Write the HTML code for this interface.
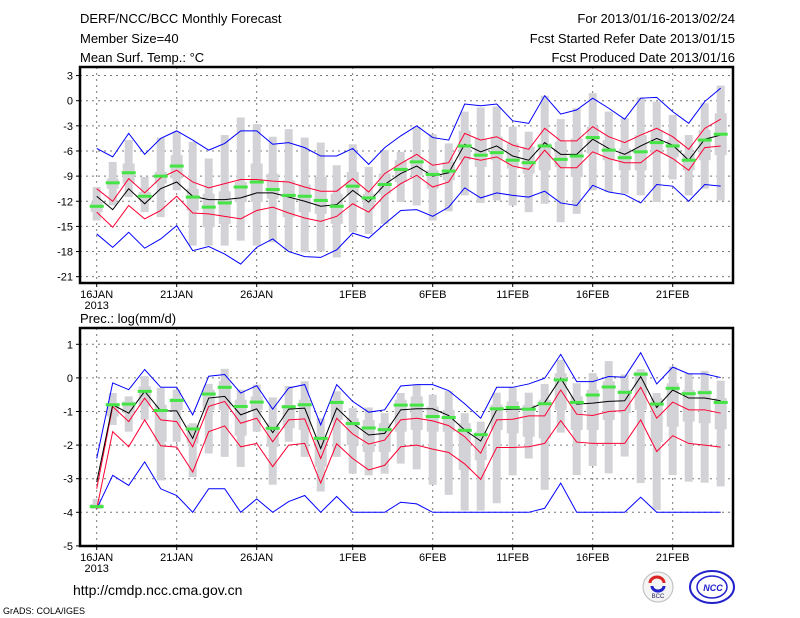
<!DOCTYPE html>
<html><head><meta charset="utf-8"><style>
html,body{margin:0;padding:0;background:#fff;}
svg{display:block;font-family:"Liberation Sans",sans-serif;}
</style></head><body>
<svg id="c" width="800" height="618" viewBox="0 0 800 618">
<rect width="800" height="618" fill="#fff"/>
<g font-size="13" fill="#000">
<text x="80" y="23">DERF/NCC/BCC Monthly Forecast</text>
<text x="80" y="43">Member Size=40</text>
<text x="80" y="62">Mean Surf. Temp.: °C</text>
<text x="735" y="23" text-anchor="end">For 2013/01/16-2013/02/24</text>
<text x="735" y="43" text-anchor="end">Fcst Started Refer Date 2013/01/15</text>
<text x="735" y="62" text-anchor="end">Fcst Produced Date 2013/01/16</text>
</g>
<text x="80" y="323" font-size="13">Prec.: log(mm/d)</text>
<text x="73" y="595" font-size="14">http://cmdp.ncc.cma.gov.cn</text>
<text x="3" y="614" font-size="9">GrADS: COLA/IGES</text>
<g>
<circle cx="658" cy="587" r="15" fill="#f4f4f4" stroke="#bbb"/>
<path d="M650 583 a7 6 0 0 1 14 0" stroke="#d22" stroke-width="3" fill="none"/>
<path d="M652 586 a6 5 0 0 0 12 0" stroke="#22c" stroke-width="3" fill="none"/>
<text x="658" y="598" font-size="6" text-anchor="middle" fill="#225">BCC</text>
</g>
<g>
<ellipse cx="712" cy="587" rx="22" ry="16" fill="none" stroke="#22c" stroke-width="2"/>
<ellipse cx="712" cy="587" rx="15" ry="11" fill="none" stroke="#22c" stroke-width="1.5"/>
<text x="713" y="591" font-size="9" font-style="italic" font-weight="bold" text-anchor="middle" fill="#22c">NCC</text>
</g>
<g id="top"></g><g id="bot"></g>
</svg>
<script>
// ---- Temperature panel data (day 0 = 16JAN) ----
const tWhiskLo=[-14.3,-12.5,-11.5,-13.3,-13.9,-10.7,-17.3,-17.3,-17.3,-16.7,-17.3,-16.9,-17.9,-18.1,-18,-18.7,-15.7,-15.9,-14.7,-12.1,-12.5,-14.3,-13.2,-11.3,-12.2,-11.9,-12.5,-13.3,-12.3,-14.5,-13.5,-10.7,-10.9,-11.1,-11.3,-12.1,-9.4,-11.3,-10.5,-11.9];
const tWhiskHi=[-10.3,-7.3,-4.7,-9.1,-4.4,-3.7,-4.9,-6.9,-4.1,-2,-2.8,-4.3,-3.4,-4.4,-5,-7.7,-5.2,-7.9,-5.9,-6.1,-3.1,-4,-5.1,-1.3,-0.8,-0.7,-3.1,-3.7,0.6,-2.2,-0.9,0.9,-1.3,-2.1,0.4,-0.1,-1.7,-4.1,-0.3,1.8];
const tBoxLo=[-13.3,-10.5,-9.9,-11.9,-9.9,-9.3,-13.1,-15.1,-14.7,-12.1,-12.1,-11.7,-13.9,-13.3,-13.5,-14.7,-11.3,-12.9,-11.1,-9.7,-8.9,-10.5,-9.5,-7.1,-7.9,-7.1,-8.1,-8.7,-8.3,-7.9,-9.1,-6.3,-7.1,-8.3,-8.3,-6.3,-6.7,-8.3,-7.1,-6.5];
const tBoxHi=[-12.1,-9.3,-7.5,-10.9,-8.5,-6.5,-10.5,-11.1,-10.8,-9.7,-7.5,-8.7,-9.5,-10,-9.1,-11.1,-8.5,-11.1,-8.7,-7.1,-6.7,-8.3,-7.3,-3.6,-4.5,-4.3,-5.1,-5.5,-5.1,-4.9,-4.5,-3.1,-4.7,-5.7,-4.1,-3.5,-4.7,-6.3,-3.5,-1.5];
const tGreen=[-12.6,-9.8,-8.6,-11.4,-9,-7.8,-11.5,-12.7,-12.2,-10.3,-9.7,-10.6,-11.3,-11.4,-11.9,-12.6,-10.2,-11.6,-10,-8.2,-7.3,-8.8,-8.4,-5.4,-6.5,-6.2,-7.1,-7.4,-5.4,-7,-6.6,-4.4,-5.9,-6.8,-6.1,-5,-5.4,-7.1,-4.7,-4];
const tMean=[-11.4,-13,-10.5,-12.3,-10.5,-9.7,-11.4,-11.8,-11.8,-11.6,-11,-11,-11.5,-12,-12.6,-12.4,-10.7,-12.1,-10,-8.7,-7.8,-9,-8.6,-5.2,-6.1,-5.4,-6.6,-7.1,-5,-6.4,-6.4,-4.6,-5.7,-6.4,-5.4,-4.5,-5.3,-7.1,-4.6,-4.1];
const tRedHi=[-10.5,-12,-9.3,-11,-9.2,-8.3,-9.7,-10.4,-9.9,-9.4,-9.4,-9.6,-9.7,-10.3,-10.8,-10.8,-9.3,-10.9,-8.7,-7.5,-6.4,-7.7,-7.4,-3.9,-4.7,-4.3,-5.3,-5.8,-3.3,-4.8,-4.8,-3.1,-4.3,-5,-4.1,-3.3,-4.3,-5.8,-3.3,-2.2];
const tRedLo=[-13.3,-15.1,-12.5,-14.1,-13.1,-11.4,-13.4,-13.5,-13.8,-14.1,-13.1,-12.7,-13.4,-14,-14.4,-13.8,-12.3,-13.3,-11.3,-9.9,-8.9,-10.3,-9.7,-6.7,-7.1,-6.7,-7.8,-8.2,-5.9,-8,-8,-6.1,-6.9,-7.4,-7.4,-5.9,-6.9,-8.3,-5.6,-5.4];
const tBlueHi=[-5.7,-6.7,-3.9,-6.4,-4.5,-3.6,-4.7,-5.9,-5.1,-3.6,-3.6,-5.2,-5,-5.6,-6.6,-6.6,-5.7,-7.6,-5.6,-4.2,-3,-4.4,-4.7,-0.4,-0.6,-0.4,-2.4,-2.7,0.6,-1.6,-1.1,0.3,-0.9,-2.2,0.3,0.4,-1.3,-2.7,-0.1,1.5];
const tBlueLo=[-15.9,-17.5,-15.7,-17.6,-16.5,-14.9,-17.9,-17.4,-18.3,-19.5,-17.5,-16.5,-18,-18.6,-18.7,-17.8,-15.8,-16.4,-14.7,-13.1,-13,-13.8,-12.7,-10.4,-11.6,-11,-11.3,-11.5,-10.8,-12.2,-12.5,-10.1,-10.9,-11.2,-12.2,-10,-10.2,-12,-10,-10.2];
const tTicks=[3,0,-3,-6,-9,-12,-15,-18,-21];
// ---- Precipitation panel data ----
const pWhiskLo=[-3.9,-1.4,-1.6,-1.25,-3.05,-1.9,-2.95,-2.25,-2.35,-2.65,-1.6,-3.18,-1.9,-2.35,-3.38,-2.35,-2.85,-2.9,-2.85,-2.55,-2.72,-3.18,-3.48,-3.95,-3.95,-3.73,-2.9,-2.4,-3.33,-1.63,-2.89,-2.62,-2.84,-2.34,-3.13,-3.93,-2.89,-3.09,-3.12,-3.23];
const pWhiskHi=[-3.6,-0.45,-0.55,0.05,-0.3,-0.35,-1.35,-0.18,0.27,-0.35,-0.2,-0.58,-0.24,-0.1,-1.2,-0.4,-0.9,-0.88,-1.05,-0.45,-0.2,-0.5,-0.39,-1.05,-1.3,-0.44,-0.28,-0.44,-0.18,0.54,-0.16,0.14,0.5,0.1,0.26,-0.45,0.34,0.14,0.21,-0.08];
const pBoxLo=[-3.9,-1.15,-1.05,-0.85,-1.9,-0.95,-1.95,-0.95,-0.95,-1.72,-0.95,-2.05,-1.5,-1.55,-2.65,-1.25,-2,-2.2,-2.2,-1.6,-1.55,-1.6,-1.6,-2.74,-2.45,-1.55,-1.65,-1.75,-1.8,-0.95,-1.55,-1.55,-1.25,-1.05,-0.95,-1.9,-1.45,-1.3,-1.35,-1.53];
const pBoxHi=[-3.75,-0.75,-0.7,-0.25,-0.8,-0.6,-1.4,-0.35,-0.1,-0.65,-0.55,-1.35,-0.8,-0.65,-1.75,-0.65,-1.2,-1.25,-1.35,-0.65,-0.55,-0.85,-0.95,-1.35,-1.6,-0.8,-0.7,-0.8,-0.65,0.14,-0.55,-0.35,-0.1,-0.35,0.19,-0.6,-0.16,-0.36,-0.36,-0.6];
const pGreen=[-3.83,-0.8,-0.78,-0.4,-0.97,-0.67,-1.52,-0.48,-0.28,-0.85,-0.72,-1.5,-0.86,-0.8,-1.8,-0.73,-1.36,-1.49,-1.54,-0.81,-0.81,-1.15,-1.18,-1.56,-1.69,-0.92,-0.88,-0.93,-0.77,-0.06,-0.73,-0.51,-0.27,-0.43,0.11,-0.78,-0.31,-0.47,-0.44,-0.73];
const pMean=[-3.1,-0.8,-1.05,-0.4,-0.98,-0.98,-1.8,-0.6,-0.55,-1.1,-0.92,-1.63,-0.93,-0.9,-2.1,-0.9,-1.35,-1.7,-1.65,-0.95,-0.92,-0.92,-1.12,-1.55,-1.88,-0.95,-0.93,-0.93,-0.73,-0.01,-0.78,-0.75,-0.7,-0.68,0.04,-0.88,-0.36,-0.6,-0.6,-0.68];
const pRedHi=[-3.3,-0.85,-1.3,-0.6,-1.25,-1.3,-2.05,-0.85,-0.7,-1.35,-1.2,-1.9,-1.25,-1.22,-2.4,-1.2,-1.67,-1.97,-1.85,-1.25,-1.2,-1.28,-1.42,-1.75,-2.24,-1.25,-1.23,-1.13,-1.13,-0.36,-1.08,-1.12,-1,-0.97,-0.28,-1.2,-0.72,-0.95,-0.95,-1.05];
const pRedLo=[-3.9,-1.6,-2.05,-1.25,-2.02,-2.06,-2.8,-1.6,-1.43,-2.05,-1.95,-2.64,-2,-1.95,-3.13,-1.96,-2.4,-2.74,-2.6,-2.05,-2,-2.12,-2.22,-2.56,-3.02,-2.07,-2.07,-2.05,-1.95,-1.27,-1.91,-1.95,-1.95,-1.95,-1.25,-2.19,-1.72,-1.95,-2,-2.06];
const pBlueHi=[-2.4,-0.15,-0.35,0.25,-0.28,-0.28,-1.1,0.05,0.1,-0.45,-0.23,-0.93,-0.3,-0.2,-1.4,-0.2,-0.7,-1.02,-0.95,-0.24,-0.2,-0.2,-0.38,-0.77,-1.2,-0.28,-0.28,-0.18,-0.01,0.7,-0.11,-0.11,0.04,0.02,0.75,-0.18,0.32,0.12,0.12,0.01];
const pBlueLo=[-3.9,-2.9,-3.2,-2.5,-3.3,-3.5,-4,-3.3,-3.3,-4,-3.6,-4,-3.68,-3.5,-4,-3.53,-4,-4,-4,-3.7,-3.75,-4,-4,-4,-4,-4,-4,-4,-3.88,-3.13,-4,-4,-4,-4,-3.55,-4,-4,-4,-4,-4];
const pTicks=[1,0,-1,-2,-3,-4,-5];
const dateLabels=["16JAN","21JAN","26JAN","1FEB","6FEB","11FEB","16FEB","21FEB"];
const dateDays=[0,5,10,16,21,26,31,36];

const NS="http://www.w3.org/2000/svg";
const xOf=i=>96.7+16*i;
function mk(parent,tag,attrs){const e=document.createElementNS(NS,tag);for(const k in attrs)e.setAttribute(k,attrs[k]);parent.appendChild(e);return e;}

function panel(g,top,bottom,yOf,ticks,d,name){
  // grid
  ticks.forEach(t=>{
    const yy=yOf(t);
    const gl=mk(g,'line',{x1:80,x2:733,y1:yy,y2:yy,stroke:'#777','stroke-dasharray':'2,4','stroke-width':1});
    
    
    const tk=mk(g,'line',{x1:76,x2:80,y1:yy,y2:yy,stroke:'#000'});
    
    
    const tl=mk(g,'text',{x:73,y:yy+4,'text-anchor':'end','font-size':11});
    tl.textContent=t;
    
    
  });
  dateDays.forEach((dd,k)=>{
    const xx=xOf(dd);
    const gl=mk(g,'line',{x1:xx,x2:xx,y1:top,y2:bottom,stroke:'#777','stroke-dasharray':'2,4'});
    
    
    const tk=mk(g,'line',{x1:xx,x2:xx,y1:bottom,y2:bottom+4,stroke:'#000'});
    
    
    const tl=mk(g,'text',{x:xx,y:bottom+15,'text-anchor':'middle','font-size':11});
    tl.textContent=dateLabels[k];
    
    
  });
  const yr=mk(g,'text',{x:xOf(0),y:bottom+26,'text-anchor':'middle','font-size':11});
  yr.textContent='2013';
  
  
  // bars
  for(let i=0;i<40;i++){
    const x=xOf(i);
    const w=mk(g,'rect',{x:x-4,y:yOf(d.wh[i]),width:8,height:yOf(d.wl[i])-yOf(d.wh[i]),fill:'#d3d3d7'});
    
    
    const b=mk(g,'rect',{x:x-6,y:yOf(d.bh[i]),width:12,height:Math.max(1,yOf(d.bl[i])-yOf(d.bh[i])),fill:'#d3d3d7'});
    
    
  }
  const line=(arr,col,nm)=>{
    const p=mk(g,'polyline',{points:arr.map((v,i)=>xOf(i)+','+yOf(v)).join(' '),fill:'none',stroke:col,'stroke-width':1});
    
    
  };
  line(d.blH,'#0000ff',name+'-blue-upper');
  line(d.blL,'#0000ff',name+'-blue-lower');
  line(d.rH,'#ff0033',name+'-red-upper');
  line(d.rL,'#ff0033',name+'-red-lower');
  line(d.m,'#000',name+'-mean-line');
  for(let i=0;i<40;i++){
    const gr=mk(g,'rect',{x:xOf(i)-7,y:yOf(d.g[i])-1.5,width:14,height:3,fill:'#44e444'});
    
    
  }
  const fr=mk(g,'rect',{x:80,y:top,width:653,height:bottom-top,fill:'none',stroke:'#000','stroke-width':2.5});
  
  
}
const yT=v=>100.7-8.38*v;
const yP=v=>377.9-33.6*v;
const gT=document.getElementById('top');


const gP=document.getElementById('bot');


panel(gT,67,283,yT,tTicks,{wl:tWhiskLo,wh:tWhiskHi,bl:tBoxLo,bh:tBoxHi,g:tGreen,m:tMean,rH:tRedHi,rL:tRedLo,blH:tBlueHi,blL:tBlueLo},'temp');
panel(gP,328,546,yP,pTicks,{wl:pWhiskLo,wh:pWhiskHi,bl:pBoxLo,bh:pBoxHi,g:pGreen,m:pMean,rH:pRedHi,rL:pRedLo,blH:pBlueHi,blL:pBlueLo},'prec');
</script>
</body></html>
